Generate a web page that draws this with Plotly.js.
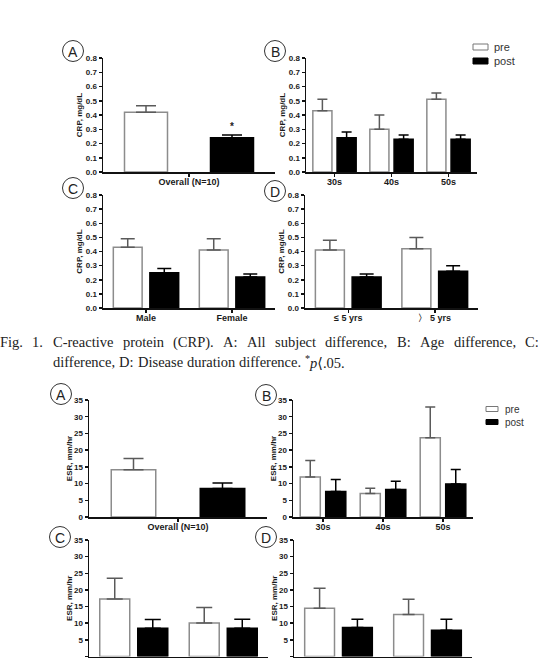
<!DOCTYPE html>
<html>
<head>
<meta charset="utf-8">
<script src="https://cdn.plot.ly/plotly-3.0.1.min.js"></script>
<style>
  html, body { margin: 0; padding: 0; background: #fff; }
  #chart { width: 538px; height: 658px; }
</style>
</head>
<body>
<div id="chart"></div>
<script>
// ---------------- categories ----------------
const seriesNames = ['pre', 'post'];
const overallCats = ['Overall (N=10)'];
const ageCats = ['30s', '40s', '50s'];
const sexCats = ['Male', 'Female'];
const durationCats = ['\u2264 5 yrs', '\u3009 5 yrs'];
const panelLetters = ['A', 'B', 'C', 'D'];

// ---------------- CRP, mg/dL (mean and upper SE) ----------------
const crpOverallPre = [0.42];          const crpOverallPreErr = [0.045];
const crpOverallPost = [0.24];         const crpOverallPostErr = [0.02];
const crpAgePre = [0.43, 0.30, 0.51];  const crpAgePreErr = [0.08, 0.10, 0.045];
const crpAgePost = [0.24, 0.23, 0.23]; const crpAgePostErr = [0.04, 0.03, 0.03];
const crpSexPre = [0.43, 0.41];        const crpSexPreErr = [0.06, 0.08];
const crpSexPost = [0.25, 0.22];       const crpSexPostErr = [0.03, 0.02];
const crpDurPre = [0.41, 0.42];        const crpDurPreErr = [0.07, 0.08];
const crpDurPost = [0.22, 0.26];       const crpDurPostErr = [0.02, 0.04];

// ---------------- ESR, mm/hr (mean and upper SE) ----------------
const esrOverallPre = [14.1];          const esrOverallPreErr = [3.4];
const esrOverallPost = [8.5];          const esrOverallPostErr = [1.7];
const esrAgePre = [12.0, 7.0, 23.7];   const esrAgePreErr = [4.9, 1.6, 9.2];
const esrAgePost = [7.6, 8.2, 9.9];    const esrAgePostErr = [3.6, 2.5, 4.3];
const esrSexPre = [17.3, 10.1];        const esrSexPreErr = [6.2, 4.6];
const esrSexPost = [8.5, 8.5];         const esrSexPostErr = [2.6, 2.7];
const esrDurPre = [14.5, 12.6];        const esrDurPreErr = [6.0, 4.6];
const esrDurPost = [8.7, 7.9];         const esrDurPostErr = [2.5, 3.3];

// ---------------- caption ----------------
const captionLine1 = ['Fig.', '1.', 'C-reactive', 'protein', '(CRP).', 'A:', 'All', 'subject',
  'difference,', 'B:', 'Age', 'difference,', 'C:'];
const captionLine2 = ['difference,', 'D:', 'Disease', 'duration', 'difference.', '<sup>*</sup><i>p</i>\u27E8.05.'];
const captionLine2Plain = ['difference,', 'D:', 'Disease', 'duration', 'difference.', '*p\u27E8.05.'];

// ---------------- page geometry (pixels) ----------------
const W = 538, H = 658;
const PRE_COLOR = '#ffffff', PRE_LINE = '#8c8c8c', PRE_ERR = '#5a5a5a';
const POST_COLOR = '#000000';
const TICK_FONT = 'Liberation Sans, Arial, sans-serif';
const NARROW_FONT = 'Liberation Sans Narrow, Liberation Sans, Arial, sans-serif';

const panels = [
  // CRP figure
  { box: [103, 275, 58, 172],  cats: overallCats,  pre: crpOverallPre, preErr: crpOverallPreErr, post: crpOverallPost, postErr: crpOverallPostErr, ymax: 0.8, dtick: 0.1, fmt: '.1f', title: 'CRP, mg/dL', cap: 10, letter: [73, 51], tickFont: TICK_FONT, stand: 2 },
  { box: [306, 477, 58, 172],  cats: ageCats,      pre: crpAgePre,     preErr: crpAgePreErr,     post: crpAgePost,     postErr: crpAgePostErr,     ymax: 0.8, dtick: 0.1, fmt: '.1f', title: 'CRP, mg/dL', cap: 5,  letter: [275, 51], tickFont: TICK_FONT, stand: 2 },
  { box: [103, 275, 195, 308], cats: sexCats,      pre: crpSexPre,     preErr: crpSexPreErr,     post: crpSexPost,     postErr: crpSexPostErr,     ymax: 0.8, dtick: 0.1, fmt: '.1f', title: 'CRP, mg/dL', cap: 7,  letter: [73, 188], tickFont: TICK_FONT, stand: 2 },
  { box: [305, 478, 195, 308], cats: durationCats, pre: crpDurPre,     preErr: crpDurPreErr,     post: crpDurPost,     postErr: crpDurPostErr,     ymax: 0.8, dtick: 0.1, fmt: '.1f', title: 'CRP, mg/dL', cap: 7,  letter: [275, 191], tickFont: TICK_FONT, stand: 2 },
  // ESR figure
  { box: [89, 267, 400, 517],  cats: overallCats,  pre: esrOverallPre, preErr: esrOverallPreErr, post: esrOverallPost, postErr: esrOverallPostErr, ymax: 35, dtick: 5, fmt: 'd', title: 'ESR, mm/hr', cap: 10, letter: [61, 394], tickFont: NARROW_FONT, stand: 0 },
  { box: [293, 473, 400, 517], cats: ageCats,      pre: esrAgePre,     preErr: esrAgePreErr,     post: esrAgePost,     postErr: esrAgePostErr,     ymax: 35, dtick: 5, fmt: 'd', title: 'ESR, mm/hr', cap: 5,  letter: [266, 395], tickFont: NARROW_FONT, stand: 0 },
  { box: [89, 268, 540, 656.5], cats: sexCats,     pre: esrSexPre,     preErr: esrSexPreErr,     post: esrSexPost,     postErr: esrSexPostErr,     ymax: 35, dtick: 5, fmt: 'd', title: 'ESR, mm/hr', cap: 8,  letter: [60, 537], tickFont: NARROW_FONT, stand: 0, hideX: true },
  { box: [294, 472, 540, 656.5], cats: durationCats, pre: esrDurPre,   preErr: esrDurPreErr,     post: esrDurPost,     postErr: esrDurPostErr,     ymax: 35, dtick: 5, fmt: 'd', title: 'ESR, mm/hr', cap: 6,  letter: [266, 537], tickFont: NARROW_FONT, stand: 0, hideX: true }
];

const traces = [];
const layout = {
  width: W, height: H,
  margin: { l: 0, r: 0, t: 0, b: 0 },
  paper_bgcolor: '#ffffff',
  plot_bgcolor: 'rgba(0,0,0,0)',
  showlegend: false,
  barmode: 'overlay',
  font: { family: TICK_FONT, color: '#1a1a1a' },
  shapes: [],
  annotations: []
};

const px = x => x / W;
const py = y => 1 - y / H;

panels.forEach((p, i) => {
  const n = i + 1;
  const xKey = n === 1 ? 'xaxis' : 'xaxis' + n;
  const yKey = n === 1 ? 'yaxis' : 'yaxis' + n;
  const xRef = n === 1 ? 'x' : 'x' + n;
  const yRef = n === 1 ? 'y' : 'y' + n;
  const single = p.cats.length === 1;
  // bar placement inside each category slot
  const barW = single ? 0.25 : 0.335;
  const preOff = single ? -0.375 : -0.38;
  const postOff = single ? 0.125 : 0.045;

  layout[xKey] = {
    domain: [px(p.box[0]), px(p.box[1])],
    anchor: yRef,
    type: 'category',
    range: [-0.5, p.cats.length - 0.5],
    autorange: false,
    showline: true, linecolor: '#111', linewidth: 1.5,
    ticks: 'outside', ticklen: 3, tickwidth: 1.5, tickcolor: '#111',
    showgrid: false, zeroline: false,
    showticklabels: !p.hideX,
    ticklabelstandoff: -2,
    tickfont: { family: TICK_FONT, size: 9, weight: 'bold', color: '#1a1a1a' },
    fixedrange: true
  };
  layout[yKey] = {
    domain: [py(p.box[3]), py(p.box[2])],
    anchor: xRef,
    range: [0, p.ymax],
    autorange: false,
    dtick: p.dtick, tick0: 0,
    tickformat: p.fmt,
    showline: true, linecolor: '#111', linewidth: 1.5,
    ticks: 'outside', ticklen: 3, tickwidth: 1.5, tickcolor: '#111',
    showgrid: false, zeroline: false,
    tickfont: { family: p.tickFont, size: 8, weight: 'bold', color: '#1a1a1a' },
    title: { text: p.title, font: { family: TICK_FONT, size: 8, weight: 'bold', color: '#1a1a1a' }, standoff: p.stand },
    fixedrange: true
  };

  traces.push({
    type: 'bar', name: seriesNames[0], x: p.cats, y: p.pre,
    xaxis: xRef, yaxis: yRef, width: barW, offset: preOff,
    marker: { color: PRE_COLOR, line: { color: PRE_LINE, width: 1.5 } },
    error_y: { type: 'data', symmetric: false, array: p.preErr, arrayminus: p.preErr.map(() => 0),
               color: PRE_ERR, thickness: 1.5, width: p.cap },
    hoverinfo: 'skip'
  });
  traces.push({
    type: 'bar', name: seriesNames[1], x: p.cats, y: p.post,
    xaxis: xRef, yaxis: yRef, width: barW, offset: postOff,
    marker: { color: POST_COLOR, line: { color: POST_COLOR, width: 1.5 } },
    error_y: { type: 'data', symmetric: false, array: p.postErr, arrayminus: p.postErr.map(() => 0),
               color: '#000', thickness: 1.5, width: p.cap },
    hoverinfo: 'skip'
  });

  // circled panel letter
  const r = 10.5;
  const [cx, cy] = p.letter;
  layout.shapes.push({
    type: 'circle', xref: 'paper', yref: 'paper',
    x0: px(cx - r), x1: px(cx + r), y0: py(cy + r), y1: py(cy - r),
    line: { color: '#333', width: 1 }, fillcolor: 'rgba(0,0,0,0)'
  });
  layout.annotations.push({
    xref: 'paper', yref: 'paper', x: px(cx), y: py(cy + 0.5),
    text: panelLetters[i % 4], showarrow: false,
    xanchor: 'center', yanchor: 'middle',
    font: { family: TICK_FONT, size: 14, color: '#222' }
  });
});

// significance mark over the overall CRP post bar
layout.annotations.push({
  xref: 'x', yref: 'y', x: 0.25, y: crpOverallPost[0] + crpOverallPostErr[0],
  text: '*', showarrow: false, yanchor: 'bottom', yshift: 1,
  font: { family: TICK_FONT, size: 10, weight: 'bold', color: '#222' }
});

// pre / post keys, one for each figure
const keys = [
  { box: [473, 488], rows: [47, 61], h: 6, textX: 493, size: 11 },
  { box: [486, 498], rows: [409, 422], h: 5, textX: 504, size: 10 }
];
keys.forEach(k => {
  k.rows.forEach((ry, j) => {
    layout.shapes.push({
      type: 'rect', xref: 'paper', yref: 'paper',
      x0: px(k.box[0]), x1: px(k.box[1]), y0: py(ry + k.h / 2), y1: py(ry - k.h / 2),
      line: { color: j === 0 ? '#777' : '#000', width: 1 },
      fillcolor: j === 0 ? PRE_COLOR : POST_COLOR
    });
    layout.annotations.push({
      xref: 'paper', yref: 'paper', x: px(k.textX), y: py(ry),
      text: seriesNames[j], showarrow: false, xanchor: 'left', yanchor: 'middle',
      borderpad: 0,
      font: { family: TICK_FONT, size: k.size, color: '#333' }
    });
  });
});

// caption: words spread evenly between fixed line ends
const CAP_FONT = 'Liberation Serif, DejaVu Serif, serif';
const CAP_SIZE = 14.5;
const ctx = document.createElement('canvas').getContext('2d');
ctx.font = CAP_SIZE + 'px "Liberation Serif", "DejaVu Serif", serif';

function setLine(words, measureWords, start, end, yPix) {
  const widths = measureWords.map(w => ctx.measureText(w).width);
  const gap = (end - start - widths.reduce((a, b) => a + b, 0)) / (words.length - 1);
  let cursor = start;
  words.forEach((w, j) => {
    layout.annotations.push({
      xref: 'paper', yref: 'paper', x: px(cursor), y: py(yPix),
      text: w, showarrow: false, xanchor: 'left', yanchor: 'middle', borderpad: 0,
      font: { family: CAP_FONT, size: CAP_SIZE, color: '#222' }
    });
    cursor += widths[j] + gap;
  });
}
setLine(captionLine1, captionLine1, -1, 538, 342);
setLine(captionLine2, captionLine2Plain, 52, 346, 362);

Plotly.newPlot('chart', traces, layout, { staticPlot: true, displayModeBar: false });
</script>
</body>
</html>
